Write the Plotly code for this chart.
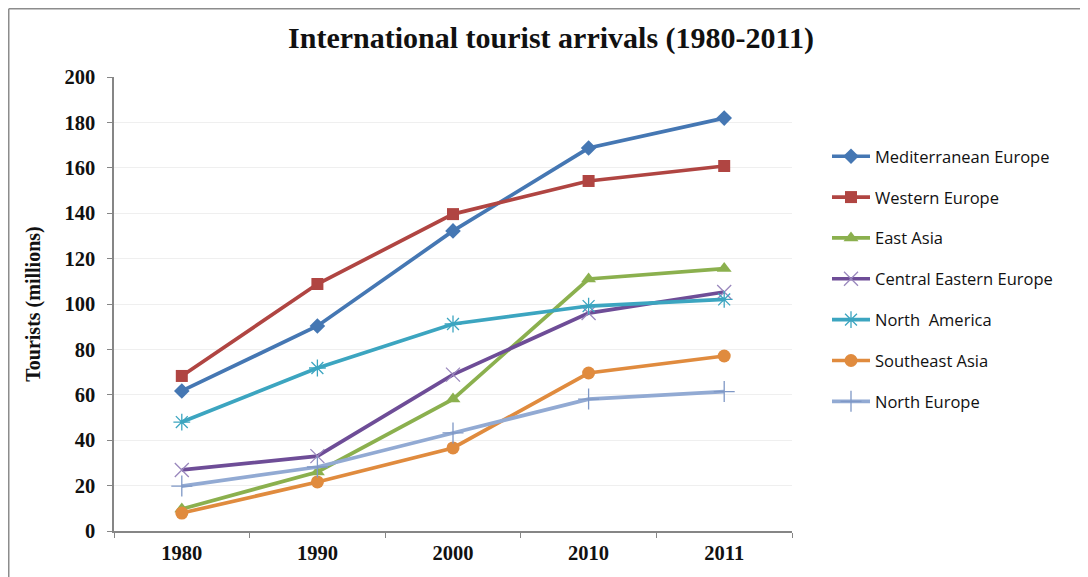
import plotly.graph_objects as go

years = ["1980", "1990", "2000", "2010", "2011"]
series_names = ["Mediterranean Europe", "Western Europe", "East Asia",
                "Central Eastern Europe", "North  America", "Southeast Asia", "North Europe"]
mediterranean_europe = [61.7, 90.3, 132.2, 168.7, 181.9]
western_europe = [68.3, 108.8, 139.6, 154.2, 160.8]
east_asia = [9.7, 26.0, 58.1, 111.0, 115.6]
central_eastern_europe = [26.9, 33.0, 68.9, 96.0, 105.3]
north_america = [48.0, 71.8, 91.2, 99.1, 102.0]
southeast_asia = [7.9, 21.6, 36.6, 69.6, 77.1]
north_europe = [19.8, 28.2, 43.2, 58.1, 61.4]
y_ticks = [0, 20, 40, 60, 80, 100, 120, 140, 160, 180, 200]

values = [mediterranean_europe, western_europe, east_asia, central_eastern_europe,
          north_america, southeast_asia, north_europe]
colors = ["#4577b3", "#b04542", "#8bb04e", "#6e4d97", "#3ca5c0", "#e08b3e", "#92aad3"]
symbols = ["diamond", "square", "triangle-up", "x-thin", "asterisk-open", "circle", "cross-thin"]
msizes = [12, 12, 13, 14, 14, 13, 15]
mline_colors = [None, None, None, "#9a88bd", "#5bb8d0", None, "#7f98c6"]

fig = go.Figure()
for i, (name, vals) in enumerate(zip(series_names, values)):
    marker = dict(symbol=symbols[i], size=msizes[i], color=colors[i])
    if mline_colors[i]:
        marker["line"] = dict(color=mline_colors[i], width=1.3)
    fig.add_trace(go.Scatter(
        x=years, y=vals, name=name, mode="lines+markers",
        line=dict(color=colors[i], width=3.7),
        marker=marker, legendgroup=f"g{i}",
    ))

# page is rendered with an 8px body offset; coordinates below are figure pixels
W, H = 1088, 577
left, top = 106, 69
right, bottom = W - 784, H - 523
pw, ph = W - left - right, H - top - bottom

def px_x(p):
    return (p - left) / pw

def px_y(p):
    return (H - bottom - p) / ph

serif_bold = dict(family="Liberation Serif", size=20.5, color="#111111", weight="bold")

fig.update_layout(
    width=W, height=H,
    margin=dict(l=left, r=right, t=top, b=bottom),
    paper_bgcolor="white", plot_bgcolor="white",
    title=dict(text="<b>International tourist arrivals (1980-2011)</b>",
               x=543 / W, xanchor="center", xref="container",
               y=1 - 29 / H, yanchor="middle", yref="container",
               font=dict(family="Liberation Serif", size=30, color="#111111")),
    xaxis=dict(type="category", range=[-0.5, 4.5], tickson="boundaries",
               ticks="outside", ticklen=5, tickcolor="#868686",
               showline=True, linecolor="#868686", linewidth=1.5,
               showgrid=False, zeroline=False, tickfont=serif_bold,
               ticklabelstandoff=3),
    yaxis=dict(range=[0, 200], tickvals=y_ticks, ticks="outside", ticklen=5,
               tickcolor="#868686", showline=True, linecolor="#868686", linewidth=1.5,
               showgrid=True, gridcolor="#efefef", gridwidth=1.2, zeroline=False,
               tickfont=serif_bold, ticklabelstandoff=8,
               title=dict(text="<b>Tourists (millions)</b>", standoff=18,
                          font=dict(family="Liberation Serif", size=20, color="#111111"))),
    legend=dict(x=px_x(819), xanchor="left", y=px_y(131), yanchor="top",
                traceorder="grouped", tracegroupgap=16.4, itemwidth=38,
                font=dict(family="Open Sans", size=16.5, color="#111111"),
                bgcolor="rgba(0,0,0,0)"),
    shapes=[
        dict(type="line", xref="paper", yref="paper",
             x0=px_x(0.75), x1=px_x(W + 2), y0=px_y(0.75), y1=px_y(0.75),
             line=dict(color="#8c8c8c", width=1.5)),
        dict(type="line", xref="paper", yref="paper",
             x0=px_x(0.75), x1=px_x(0.75), y0=px_y(0.75), y1=px_y(H + 2),
             line=dict(color="#8c8c8c", width=1.5)),
    ],
)

fig.write_html("out.html")
